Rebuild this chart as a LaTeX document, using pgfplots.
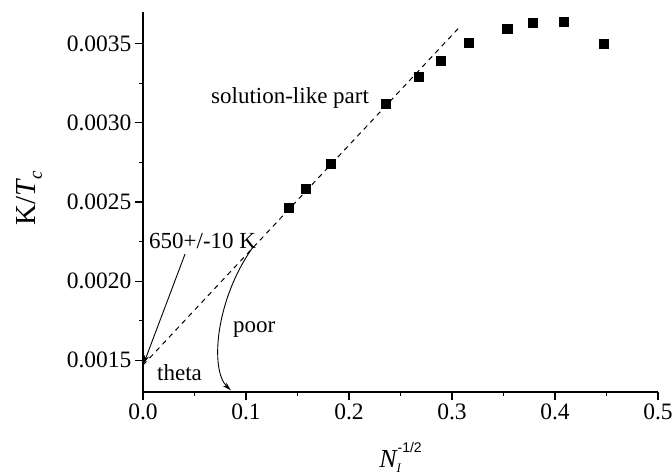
\documentclass[border=0pt]{standalone}
\usepackage{fontspec}
\setmainfont{Liberation Serif}
\setsansfont{Liberation Sans}
\usepackage{pgfplots}
\pgfplotsset{compat=1.18}
\usetikzlibrary{arrows.meta}
\begin{document}
\begin{tikzpicture}[x=1pt,y=1pt]
\begin{axis}[
  at={(143pt,82pt)}, anchor=south west,
  scale only axis, width=515pt, height=380pt,
  xmin=0, xmax=0.5, ymin=0.0013, ymax=0.0037,
  axis x line=bottom, axis y line=left,
  axis line style={-, line width=1.5pt},
  every tick/.style={black, line width=1.3pt},
  tick align=outside,
  major tick length=8pt, minor tick length=4pt,
  xtick={0,0.1,0.2,0.3,0.4,0.5},
  minor xtick={0.05,0.15,0.25,0.35,0.45},
  ytick={0.0015,0.0020,0.0025,0.0030,0.0035},
  minor ytick={0.00175,0.00225,0.00275,0.00325},
  scaled y ticks=false, scaled x ticks=false,
  x tick label style={/pgf/number format/fixed, /pgf/number format/fixed zerofill, /pgf/number format/precision=1},
  y tick label style={/pgf/number format/fixed, /pgf/number format/fixed zerofill, /pgf/number format/precision=4},
  /pgf/number format/assume math mode=true,
  tick label style={font=\fontsize{23.5}{25}\selectfont},
  xlabel={{\fontsize{26}{26}\selectfont\itshape N}\rlap{\raisebox{-5pt}{\fontsize{13}{13}\selectfont\itshape I}}\hspace{1pt}\raisebox{15pt}{\fontsize{14}{14}\selectfont\sffamily -1/2}},
  xlabel style={at={(axis description cs:0.5,-0.1974)}, anchor=base},
  ylabel={{\fontsize{29}{29}\selectfont K/\textit{T}\kern-1pt\raisebox{-6pt}{\fontsize{19}{19}\selectfont\textit{c}}}},
  ylabel style={at={(axis description cs:-0.2078,0.51)}, anchor=base},
  clip=false,
]
\addplot[black, line width=1pt, dash pattern=on 5pt off 4.5pt] coordinates {(0,0.00147) (0.3087,0.003614)};
\addplot[only marks, mark=square*, mark size=4.6pt, black] coordinates {
(0.1414,0.002462) (0.1581,0.002582) (0.1826,0.002741) (0.2357,0.00312)
(0.2673,0.003291) (0.2887,0.003392) (0.3162,0.003506) (0.3536,0.003595)
(0.3780,0.003633) (0.4082,0.003639) (0.4472,0.003500)};
\node[anchor=base west, inner sep=0, font=\fontsize{23}{25}\selectfont] at (axis cs:0.066,0.00312) {solution-like part};
\node[anchor=base west, inner sep=0, font=\fontsize{23}{25}\selectfont] at (axis cs:0.00583,0.002209) {650+/-10 K};
\node[anchor=base west, inner sep=0, font=\fontsize{23}{25}\selectfont] at (axis cs:0.0874,0.001677) {poor};
\node[anchor=base west, inner sep=0, font=\fontsize{23}{25}\selectfont] at (axis cs:0.0136,0.001373) {theta};
\draw[black, line width=0.9pt, -{Stealth[length=8pt,width=5pt]}] (axis cs:0.0408,0.002171) -- (axis cs:0.0008,0.001481);
\draw[black, line width=0.9pt, -{Stealth[length=9pt,width=5pt]}] (axis cs:0.1068,0.002215) .. controls (axis cs:0.0699,0.00188) and (axis cs:0.065,0.001437) .. (axis cs:0.0854,0.00131);
\end{axis}
\pgfresetboundingbox
\path (0,0) rectangle (672,474);
\end{tikzpicture}
\end{document}
